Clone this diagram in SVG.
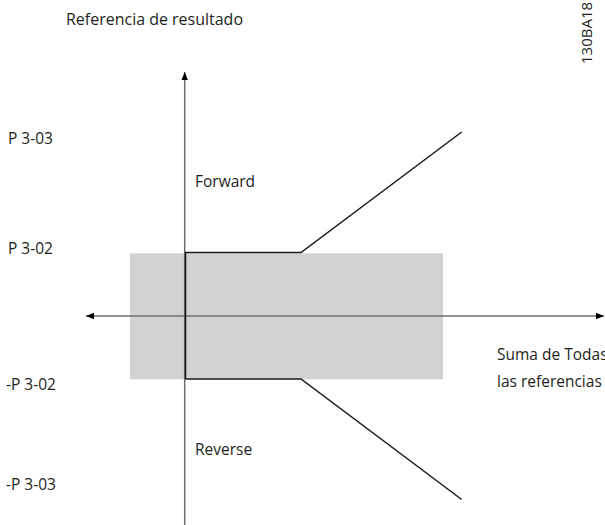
<svg xmlns="http://www.w3.org/2000/svg" width="605" height="525" viewBox="0 0 605 525">
<style>
text{font-family:"Open Sans","Noto Sans","Liberation Sans",sans-serif;font-size:15.5px;fill:#231f20}
.axis{stroke:#6d6e71;stroke-width:1.5;fill:none}
.curve{stroke:#1a1a1a;stroke-width:1.5;fill:none}
</style>
<defs>
<marker id="ah" viewBox="0 0 10 10" refX="10" refY="5" markerWidth="10" markerHeight="8" markerUnits="userSpaceOnUse" orient="auto-start-reverse">
<path d="M0,1 L10,5 L0,9 Z" fill="#000"/>
</marker>
<marker id="ahv" viewBox="0 0 10 10" refX="10" refY="5" markerWidth="16" markerHeight="8" markerUnits="userSpaceOnUse" orient="auto-start-reverse">
<path d="M0,1 L10,5 L0,9 Z" fill="#000"/>
</marker>
</defs>
<g id="region"><rect x="130" y="253.3" width="313" height="126" fill="#d1d2d4"/></g>
<g id="connectors">
<line class="axis" x1="184.7" y1="525" x2="184.7" y2="72" marker-end="url(#ahv)"/>
<line class="axis" x1="86" y1="316" x2="604" y2="316" marker-start="url(#ahv)" marker-end="url(#ah)"/>
<polyline class="curve" points="185.5,379 185.5,252.5 301,252.5 461.7,132"/>
<polyline class="curve" points="185.5,379 301,379 461.7,499.5"/>
</g>
<g id="labels">
<text x="66" y="25" textLength="177" lengthAdjust="spacingAndGlyphs">Referencia de resultado</text>
<text x="8" y="144">P 3-03</text>
<text x="8" y="254">P 3-02</text>
<text x="6" y="390">-P 3-02</text>
<text x="6" y="490">-P 3-03</text>
<text x="195" y="187">Forward</text>
<text x="195" y="455">Reverse</text>
<text x="497" y="360">Suma de Todas</text>
<text x="497" y="387">las referencias</text>
<text transform="translate(592,64) rotate(-90)" style="font-size:15px">130BA18</text>
</g>
</svg>
